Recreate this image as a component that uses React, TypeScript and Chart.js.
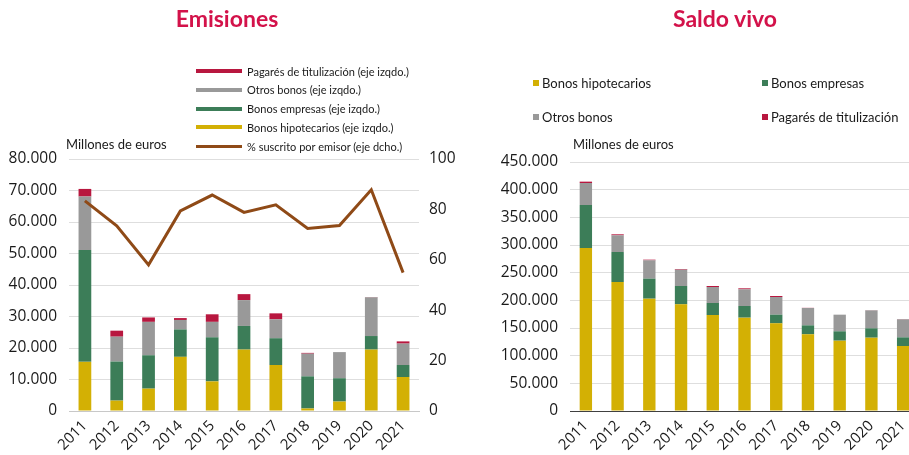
import React, { useEffect, useRef } from "react";
import { Chart, registerables } from "chart.js";

Chart.register(...registerables);

// ---------- DATA ----------
const years = ["2011", "2012", "2013", "2014", "2015", "2016", "2017", "2018", "2019", "2020", "2021"];

// Emisiones (millones de euros)
const emiHipotecarios = [15600, 3300, 7100, 17200, 9400, 19500, 14600, 800, 3000, 19500, 10800];
const emiEmpresas = [35500, 12400, 10600, 8700, 14000, 7500, 8500, 10200, 7400, 4300, 3800];
const emiOtros = [17000, 7900, 10600, 3000, 4900, 8200, 6000, 7200, 8300, 12300, 6800];
const emiPagares = [2400, 1900, 1400, 600, 2400, 1900, 1900, 250, 0, 100, 700];
const emiSuscrito = [83.4, 73.5, 58.0, 79.4, 85.7, 78.8, 81.8, 72.4, 73.6, 87.8, 54.9];

// Saldo vivo (millones de euros)
const svHipotecarios = [294600, 233100, 203000, 192800, 173500, 168700, 158400, 138600, 127100, 132500, 117500];
const svEmpresas = [77700, 54200, 36200, 33100, 21700, 21100, 15700, 16200, 16900, 16900, 15600];
const svOtros = [39700, 30200, 33100, 29500, 28900, 30100, 31900, 31300, 30100, 32500, 32600];
const svPagares = [2500, 1800, 1200, 1200, 1800, 1800, 1800, 300, 0, 300, 500];

const leftTicksMax = 80000;
const leftTicksStep = 10000;
const rightTicksMax = 100;
const rightTicksStep = 20;
const svTicksMax = 450000;
const svTicksStep = 50000;

// ---------- STYLE ----------
const C_HIP = "#d3b004";
const C_EMP = "#3c7d58";
const C_OTR = "#999999";
const C_PAG = "#b8173f";
const C_LINE = "#8f4a17";
const C_TITLE = "#d3124a";
const TXT = "#1a1a1a";
const TICK_FONT = "'Open Sans', sans-serif";
const TEXT_FONT = "Lato, 'Open Sans', sans-serif";

const fmt = (v: number) => String(v).replace(/\B(?=(\d{3})+(?!\d))/g, ".");

function EmisionesChart() {
  const ref = useRef<HTMLCanvasElement | null>(null);
  useEffect(() => {
    if (!ref.current) return;
    const chart = new Chart(ref.current, {
      type: "bar",
      data: {
        labels: years,
        datasets: [
          { type: "line", label: "% suscrito por emisor (eje dcho.)", data: emiSuscrito, yAxisID: "y1", borderColor: C_LINE, backgroundColor: C_LINE, borderWidth: 3, pointRadius: 0, tension: 0, order: 0 } as any,
          { label: "Bonos hipotecarios (eje izqdo.)", data: emiHipotecarios, backgroundColor: C_HIP, stack: "s", order: 1 },
          { label: "Bonos empresas (eje izqdo.)", data: emiEmpresas, backgroundColor: C_EMP, stack: "s", order: 1 },
          { label: "Otros bonos (eje izqdo.)", data: emiOtros, backgroundColor: C_OTR, stack: "s", order: 1 },
          { label: "Pagarés de titulización (eje izqdo.)", data: emiPagares, backgroundColor: C_PAG, stack: "s", order: 1 },
        ],
      },
      options: {
        animation: false,
        responsive: false,
        maintainAspectRatio: false,
        layout: { padding: { top: 159, bottom: 0, left: 0, right: 0 } },
        datasets: { bar: { barPercentage: 0.4, categoryPercentage: 1, borderWidth: 0 } },
        plugins: { legend: { display: false }, tooltip: { enabled: false }, title: { display: false } },
        scales: {
          x: {
            stacked: true,
            grid: { display: false, drawTicks: false },
            border: { display: true, color: "#c8c8c8", width: 1 },
            ticks: { color: TXT, font: { family: TICK_FONT, size: 15 }, maxRotation: 45, minRotation: 45, autoSkip: false, padding: 6 },
            afterFit: (s: any) => { s.height = 44; },
          },
          y: {
            stacked: true,
            position: "left",
            min: 0,
            max: leftTicksMax,
            grid: { color: "#dedede", lineWidth: 1, drawTicks: false },
            border: { display: false },
            ticks: { stepSize: leftTicksStep, color: TXT, font: { family: TICK_FONT, size: 15.5 }, padding: 12, callback: (v: any) => fmt(Number(v)) },
            afterFit: (s: any) => { s.width = 69; },
          },
          y1: {
            position: "right",
            min: 0,
            max: rightTicksMax,
            grid: { display: false, drawTicks: false },
            border: { display: false },
            ticks: { stepSize: rightTicksStep, color: TXT, font: { family: TICK_FONT, size: 15.5 }, padding: 10 },
            afterFit: (s: any) => { s.width = 41; },
          },
        },
      } as any,
    });
    return () => chart.destroy();
  }, []);
  return <canvas ref={ref} width={460} height={455} style={{ position: "absolute", left: 0, top: 0, width: 460, height: 455 }} />;
}

function SaldoChart() {
  const ref = useRef<HTMLCanvasElement | null>(null);
  useEffect(() => {
    if (!ref.current) return;
    const chart = new Chart(ref.current, {
      type: "bar",
      data: {
        labels: years,
        datasets: [
          { label: "Bonos hipotecarios", data: svHipotecarios, backgroundColor: C_HIP, stack: "s" },
          { label: "Bonos empresas", data: svEmpresas, backgroundColor: C_EMP, stack: "s" },
          { label: "Otros bonos", data: svOtros, backgroundColor: C_OTR, stack: "s" },
          { label: "Pagarés de titulización", data: svPagares, backgroundColor: C_PAG, stack: "s" },
        ],
      },
      options: {
        animation: false,
        responsive: false,
        maintainAspectRatio: false,
        layout: { padding: { top: 162, bottom: 0, left: 0, right: 11 } },
        datasets: { bar: { barPercentage: 0.39, categoryPercentage: 1, borderWidth: 0 } },
        plugins: { legend: { display: false }, tooltip: { enabled: false }, title: { display: false } },
        scales: {
          x: {
            stacked: true,
            grid: { display: false, drawTicks: false },
            border: { display: true, color: "#404040", width: 1 },
            ticks: { color: TXT, font: { family: TICK_FONT, size: 15 }, maxRotation: 45, minRotation: 45, autoSkip: false, padding: 6 },
            afterFit: (s: any) => { s.height = 44; },
          },
          y: {
            stacked: true,
            min: 0,
            max: svTicksMax,
            grid: { color: "#dedede", lineWidth: 1, drawTicks: false },
            border: { display: false },
            ticks: { stepSize: svTicksStep, color: TXT, font: { family: TICK_FONT, size: 15.5 }, padding: 12, callback: (v: any) => fmt(Number(v)) },
            afterFit: (s: any) => { s.width = 100; },
          },
        },
      } as any,
    });
    return () => chart.destroy();
  }, []);
  return <canvas ref={ref} width={460} height={455} style={{ position: "absolute", left: 470, top: 0, width: 460, height: 455 }} />;
}

const leftLegend = [
  { label: "Pagarés de titulización (eje izqdo.)", color: C_PAG, h: 4 },
  { label: "Otros bonos (eje izqdo.)", color: C_OTR, h: 4 },
  { label: "Bonos empresas (eje izqdo.)", color: C_EMP, h: 4 },
  { label: "Bonos hipotecarios (eje izqdo.)", color: C_HIP, h: 4 },
  { label: "% suscrito por emisor (eje dcho.)", color: C_LINE, h: 3 },
];

const rightLegend = [
  { label: "Bonos hipotecarios", color: C_HIP, x: 533, y: 83 },
  { label: "Bonos empresas", color: C_EMP, x: 762, y: 83 },
  { label: "Otros bonos", color: C_OTR, x: 533, y: 117 },
  { label: "Pagarés de titulización", color: C_PAG, x: 762, y: 117 },
];

export default function App() {
  const abs = (s: React.CSSProperties): React.CSSProperties => ({ position: "absolute", ...s });
  return (
    <div style={{ position: "absolute", left: 0, top: 0, width: 909, height: 455, overflow: "hidden", background: "#fff", fontFamily: TEXT_FONT, color: TXT }}>
      <EmisionesChart />
      <SaldoChart />
      <div style={abs({ left: 127, width: 200, top: 3, textAlign: "center", fontSize: 23, fontWeight: 700, color: C_TITLE, lineHeight: "30px" })}>Emisiones</div>
      <div style={abs({ left: 625, width: 200, top: 3, textAlign: "center", fontSize: 23, fontWeight: 700, color: C_TITLE, lineHeight: "30px" })}>Saldo vivo</div>
      {leftLegend.map((it, i) => (
        <div key={i} style={abs({ left: 196, top: 62 + i * 18.8, height: 18, display: "flex", alignItems: "center", whiteSpace: "nowrap", fontSize: 11 })}>
          <span style={{ display: "inline-block", width: 46, height: it.h, background: it.color, marginRight: 5 }} />
          <span>{it.label}</span>
        </div>
      ))}
      {rightLegend.map((it, i) => (
        <div key={i} style={abs({ left: it.x, top: it.y - 9, height: 18, display: "flex", alignItems: "center", whiteSpace: "nowrap", fontSize: 13 })}>
          <span style={{ display: "inline-block", width: 6, height: 6, background: it.color, marginRight: 3 }} />
          <span>{it.label}</span>
        </div>
      ))}
      <div style={abs({ left: 66, top: 135, fontSize: 13, lineHeight: "18px", whiteSpace: "nowrap" })}>Millones de euros</div>
      <div style={abs({ left: 573, top: 135, fontSize: 13, lineHeight: "18px", whiteSpace: "nowrap" })}>Millones de euros</div>
    </div>
  );
}
